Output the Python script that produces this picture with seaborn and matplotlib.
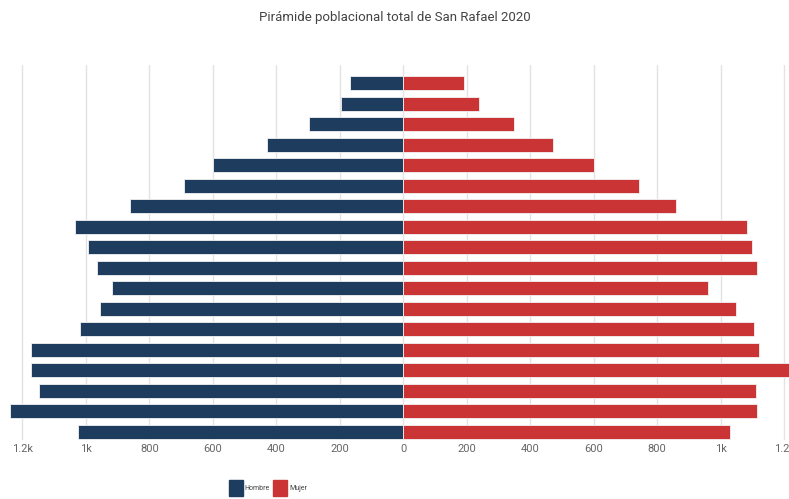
import pandas as pd
import matplotlib
matplotlib.use("Agg")
import matplotlib.pyplot as plt
import seaborn as sns

# Age groups from oldest (top) to youngest (bottom)
age_groups = ["85+", "80-84", "75-79", "70-74", "65-69", "60-64", "55-59", "50-54", "45-49",
              "40-44", "35-39", "30-34", "25-29", "20-24", "15-19", "10-14", "5-9", "0-4"]
hombre = [169, 196, 296, 429, 599, 692, 861, 1034, 993, 966, 918, 954, 1019, 1173, 1171, 1146, 1238, 1026]
mujer = [190, 237, 348, 471, 601, 741, 860, 1083, 1099, 1115, 961, 1048, 1104, 1119, 1225, 1110, 1113, 1029]

tick_values = [-1200, -1000, -800, -600, -400, -200, 0, 200, 400, 600, 800, 1000, 1200]
tick_labels = ["1.2k", "1k", "800", "600", "400", "200", "0", "200", "400", "600", "800", "1k", "1.2k"]

BLUE = "#1d3c5e"
RED = "#cb3434"

sns.set_theme(style="white")
plt.rcParams["font.family"] = ["Roboto", "DejaVu Sans"]

df = pd.concat([
    pd.DataFrame({"edad": age_groups, "valor": [-v for v in hombre], "sexo": "Hombre"}),
    pd.DataFrame({"edad": age_groups, "valor": mujer, "sexo": "Mujer"}),
])

fig = plt.figure(figsize=(7.89, 4.99), dpi=100)
ax = fig.add_axes([8 / 789, 1 - 440 / 499, 781 / 789, (440 - 65) / 499])

sns.barplot(data=df, x="valor", y="edad", hue="sexo", order=age_groups,
            palette={"Hombre": BLUE, "Mujer": RED}, saturation=1, dodge=False, orient="h",
            width=0.68, edgecolor="#f2f2f2", linewidth=0.6, legend=False, ax=ax, zorder=3)

ax.set_xlim(-1245, 1215)
ax.set_ylim(17.39, -0.88)
ax.set_xticks(tick_values)
ax.set_xticklabels(tick_labels)
ax.tick_params(axis="x", length=0, pad=3, labelsize=8, labelcolor="#666666")
ax.set_yticks([])
ax.set_xlabel("")
ax.set_ylabel("")
ax.grid(axis="x", color="#e3e3e3", lw=1, zorder=0)
for s in ax.spines.values():
    s.set_visible(False)

fig.text(0.5, 1 - 18 / 499, "Pirámide poblacional total de San Rafael 2020",
         ha="center", va="center", fontsize=9.5, color="#444444")

handles = [plt.Rectangle((0, 0), 1, 1, color=BLUE), plt.Rectangle((0, 0), 1, 1, color=RED)]
fig.legend(handles, ["Hombre", "Mujer"], loc="upper left", bbox_to_anchor=(226 / 789, 1 - 477 / 499),
           ncol=2, frameon=False, fontsize=5, handlelength=2.0, handleheight=3.3,
           handletextpad=0.3, columnspacing=0.5, labelcolor="#444444", borderaxespad=0)

fig.savefig("out.png", dpi=100)
